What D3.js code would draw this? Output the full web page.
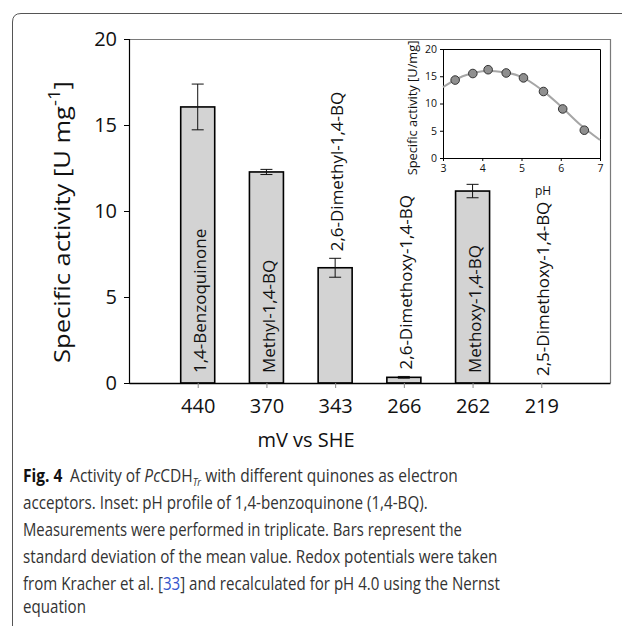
<!DOCTYPE html>
<html>
<head>
<meta charset="utf-8">
<script src="https://cdn.jsdelivr.net/npm/d3@7"></script>
<style>
	body { margin: 0; background: #fff; }
	svg { display: block; font-family: "Open Sans", sans-serif; }
</style>
</head>
<body>
<svg id="fig" width="622" height="626"></svg>
<script>
// main bars: redox potential (mV vs SHE) per quinone
var potentials = ['440', '370', '343', '266', '262', '219'];
var quinones = ['1,4-Benzoquinone', 'Methyl-1,4-BQ', '2,6-Dimethyl-1,4-BQ', '2,6-Dimethoxy-1,4-BQ', 'Methoxy-1,4-BQ', '2,5-Dimethoxy-1,4-BQ'];
var activity = [16.05, 12.27, 6.70, 0.33, 11.16, 0];
var activitySD = [1.33, 0.15, 0.55, 0.05, 0.39, 0];
var labelInside = [true, true, false, false, true, false];
var yTicks = [0, 5, 10, 15, 20];

// inset: pH profile of 1,4-BQ
var phValues = [3.31, 3.76, 4.15, 4.61, 5.05, 5.56, 6.05, 6.60];
var phActivity = [14.3, 15.5, 16.2, 15.6, 14.7, 12.2, 9.0, 5.1];
var fitPH = [3, 3.5, 4, 4.5, 5, 5.5, 6, 6.5, 7];
var fitActivity = [13.0, 15.0, 15.9, 15.8, 14.9, 12.6, 9.5, 6.1, 3.3];
var insetXTicks = [3, 4, 5, 6, 7];
var insetYTicks = [0, 5, 10, 15, 20];

var svg = d3.select('#fig');

// squeeze/stretch a text horizontally to a target width
function fitWidth(text, w, base) {
	var len = text.node().getComputedTextLength();
	text.attr('transform', (base || '') + ' scale(' + (w / len) + ',1)');
}

// outer figure frame (only top/left visible)
svg.append('path')
	.attr('d', 'M 12.5 626 V 22 Q 12.5 13.5 21 13.5 H 622')
	.attr('fill', 'none')
	.attr('stroke', '#555')
	.attr('stroke-width', 1);

var X0 = 129, X1 = 610, Y0 = 383, Y1 = 39;

var x = d3.scalePoint()
	.domain(potentials)
	.range([X0, X1])
	.padding(1);

var y = d3.scaleLinear()
	.domain([0, 20])
	.range([Y0, Y1]);

var barW = 34;

// plot frame top/right
svg.append('path')
	.attr('d', 'M ' + X0 + ' ' + (Y1 + 0.5) + ' H ' + (X1 + 0.5) + ' V ' + Y0)
	.attr('fill', 'none')
	.attr('stroke', '#7a7a7a')
	.attr('stroke-width', 1.2);

var bars = svg.append('g').attr('class', 'bars');

bars.selectAll('rect')
	.data(activity)
	.enter()
	.append('rect')
	.attr('x', function (d, i) { return x(potentials[i]) - barW / 2; })
	.attr('y', function (d) { return y(d); })
	.attr('width', barW)
	.attr('height', function (d) { return Y0 - y(d); })
	.attr('fill', '#d3d3d3')
	.attr('stroke', '#000')
	.attr('stroke-width', 1.6);

// error bars
var err = bars.selectAll('g.err')
	.data(activity)
	.enter()
	.filter(function (d, i) { return activitySD[i] > 0; })
	.append('g')
	.attr('class', 'err')
	.attr('stroke', '#111')
	.attr('stroke-width', 1);

err.append('line')
	.attr('x1', function (d, i) { return x(potentials[i]); })
	.attr('x2', function (d, i) { return x(potentials[i]); })
	.attr('y1', function (d, i) { return y(d + activitySD[i]); })
	.attr('y2', function (d, i) { return y(d - activitySD[i]); });
err.append('line')
	.attr('x1', function (d, i) { return x(potentials[i]) - 6; })
	.attr('x2', function (d, i) { return x(potentials[i]) + 6; })
	.attr('y1', function (d, i) { return y(d + activitySD[i]); })
	.attr('y2', function (d, i) { return y(d + activitySD[i]); });
err.append('line')
	.attr('x1', function (d, i) { return x(potentials[i]) - 6; })
	.attr('x2', function (d, i) { return x(potentials[i]) + 6; })
	.attr('y1', function (d, i) { return y(d - activitySD[i]); })
	.attr('y2', function (d, i) { return y(d - activitySD[i]); });

// quinone names, rotated
bars.selectAll('text.name')
	.data(quinones)
	.enter()
	.append('text')
	.attr('class', 'name')
	.attr('transform', function (d, i) {
		var ty = labelInside[i] ? Y0 - 10 : y(activity[i] + activitySD[i]) - 7;
		return 'translate(' + (x(potentials[i]) + 2) + ',' + ty + ') rotate(-90)';
	})
	.attr('dy', '0.36em')
	.attr('font-size', 17)
	.attr('fill', '#111')
	.text(function (d) { return d; });

// axes
var yAxis = svg.append('g')
	.attr('transform', 'translate(' + X0 + ',0)')
	.call(d3.axisLeft(y).tickValues(yTicks).tickSize(5).tickPadding(7));
yAxis.select('.domain').attr('stroke', '#000').attr('stroke-width', 1.2);
yAxis.selectAll('.tick line').attr('stroke', '#000');
yAxis.selectAll('.tick text')
	.attr('font-family', '"Open Sans", sans-serif')
	.attr('font-size', 20)
	.attr('fill', '#111');

var xAxis = svg.append('g')
	.attr('transform', 'translate(0,' + Y0 + ')')
	.call(d3.axisBottom(x).tickSize(5).tickPadding(11).tickSizeOuter(0));
xAxis.select('.domain').attr('stroke', '#000').attr('stroke-width', 1.5);
xAxis.selectAll('.tick line').attr('stroke', '#888');
xAxis.selectAll('.tick text')
	.attr('font-family', '"Open Sans", sans-serif')
	.attr('font-size', 20)
	.attr('fill', '#111');

svg.append('text')
	.attr('x', 306)
	.attr('y', 447)
	.attr('text-anchor', 'middle')
	.attr('font-size', 20)
	.attr('fill', '#111')
	.text('mV vs SHE');

var yLabel = svg.append('text')
	.attr('text-anchor', 'middle')
	.attr('font-size', 22)
	.attr('fill', '#111');
yLabel.append('tspan').text('Specific activity [U mg');
yLabel.append('tspan').attr('dy', -10).attr('font-size', 16).text('-1');
yLabel.append('tspan').attr('dy', 10).text(']');
fitWidth(yLabel, 282, 'translate(70,222) rotate(-90)');

// ---- inset ----
var IX0 = 443, IX1 = 600, IY0 = 158, IY1 = 49;

var ix = d3.scaleLinear().domain([3, 7]).range([IX0, IX1]);
var iy = d3.scaleLinear().domain([0, 20]).range([IY0, IY1]);

var inset = svg.append('g').attr('class', 'inset');

inset.append('path')
	.attr('d', 'M ' + IX0 + ' ' + (IY1 + 0.5) + ' H ' + (IX1 + 0.5) + ' V ' + IY0)
	.attr('fill', 'none')
	.attr('stroke', '#000')
	.attr('stroke-width', 1);

inset.append('g')
	.attr('transform', 'translate(' + IX0 + ',0)')
	.call(d3.axisLeft(iy).tickValues(insetYTicks).tickFormat(d3.format('d')).tickSize(3).tickPadding(3));
inset.append('g')
	.attr('transform', 'translate(0,' + IY0 + ')')
	.call(d3.axisBottom(ix).tickValues(insetXTicks).tickFormat(d3.format('d')).tickSize(3).tickPadding(4).tickSizeOuter(0));
inset.selectAll('.tick text')
	.attr('font-family', '"Open Sans", sans-serif')
	.attr('font-size', 10.5)
	.attr('fill', '#111');

var fit = d3.line()
	.x(function (d, i) { return ix(fitPH[i]); })
	.y(function (d) { return iy(d); })
	.curve(d3.curveCatmullRom);

inset.append('path')
	.attr('d', fit(fitActivity))
	.attr('fill', 'none')
	.attr('stroke', '#a6a6a6')
	.attr('stroke-width', 2);

inset.selectAll('circle')
	.data(phActivity)
	.enter()
	.append('circle')
	.attr('cx', function (d, i) { return ix(phValues[i]); })
	.attr('cy', function (d) { return iy(d); })
	.attr('r', 4.3)
	.attr('fill', '#8f8f8f')
	.attr('stroke', '#333')
	.attr('stroke-width', 1);

inset.append('text')
	.attr('x', 543)
	.attr('y', 195)
	.attr('text-anchor', 'middle')
	.attr('font-size', 12)
	.attr('fill', '#111')
	.text('pH');

var insetLabel = inset.append('text')
	.attr('text-anchor', 'middle')
	.attr('font-size', 12)
	.attr('fill', '#111')
	.text('Specific activity [U/mg]');
fitWidth(insetLabel, 135, 'translate(417,108) rotate(-90)');

// ---- caption ----
var cap = svg.append('g')
	.attr('font-size', 18)
	.attr('fill', '#333');

var capY = [482, 509, 536, 563, 590, 613];
var capW = [435, 405, 439, 475, 477, 63];

function capLine() {
	return cap.append('text').attr('x', 0).attr('y', 0);
}

var l1 = capLine();
l1.append('tspan').attr('font-weight', 'bold').attr('fill', '#111').text('Fig. 4');
l1.append('tspan').text('\u2002Activity of ');
l1.append('tspan').attr('font-style', 'italic').text('Pc');
l1.append('tspan').text('CDH');
l1.append('tspan').attr('font-style', 'italic').attr('font-size', 11).attr('dy', 4).text('Tr');
l1.append('tspan').attr('dy', -4).text(' with different quinones as electron');

var l2 = capLine().text('acceptors. Inset: pH profile of 1,4-benzoquinone (1,4-BQ).');
var l3 = capLine().text('Measurements were performed in triplicate. Bars represent the');
var l4 = capLine().text('standard deviation of the mean value. Redox potentials were taken');

var l5 = capLine();
l5.append('tspan').text('from Kracher et al. [');
l5.append('tspan').attr('fill', '#3355cc').text('33');
l5.append('tspan').text('] and recalculated for pH 4.0 using the Nernst');

var l6 = capLine().text('equation');

[l1, l2, l3, l4, l5, l6].forEach(function (t, i) {
	fitWidth(t, capW[i], 'translate(23,' + capY[i] + ')');
});
</script>
</body>
</html>
